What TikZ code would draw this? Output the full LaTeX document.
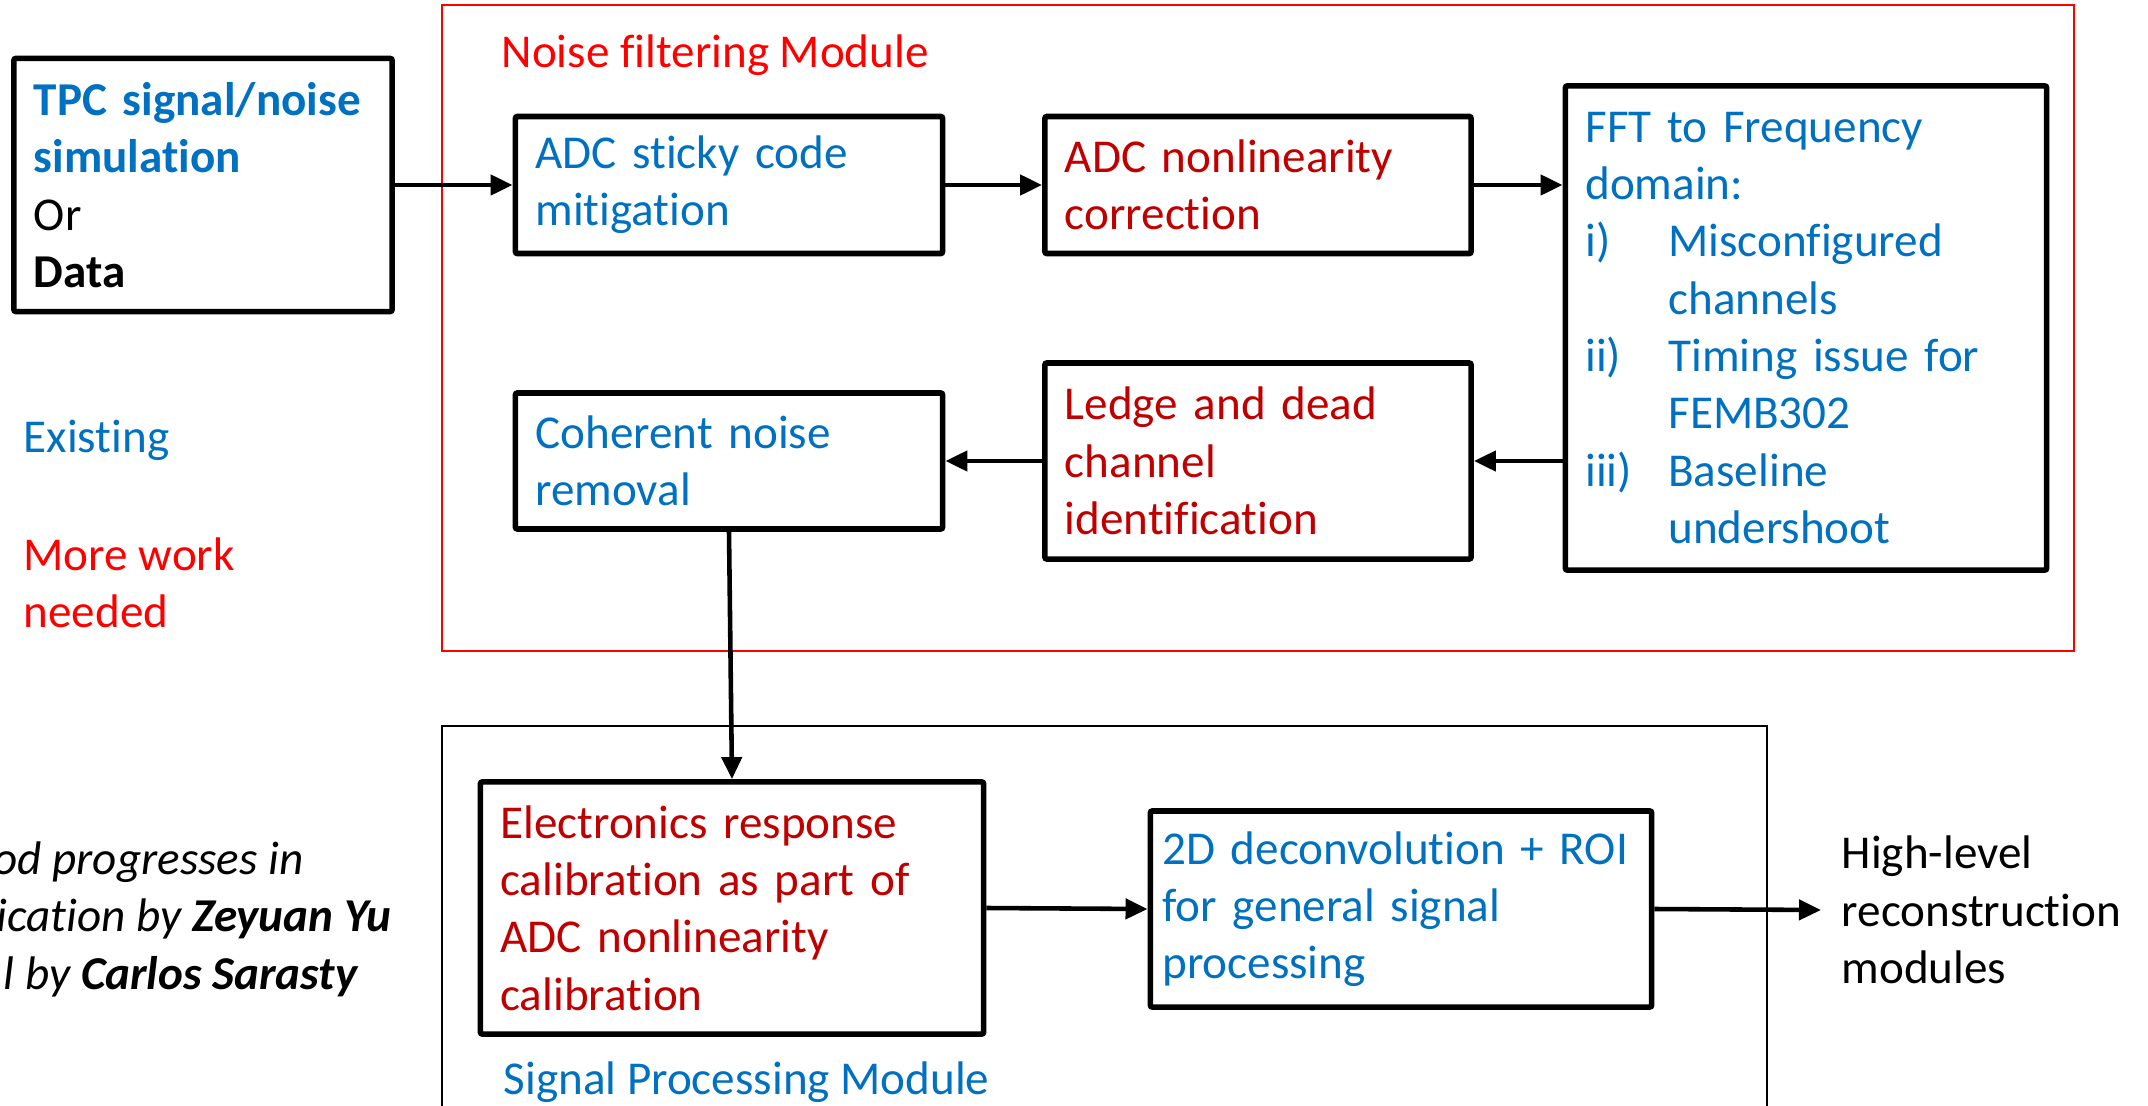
\documentclass[tikz,border=0pt]{standalone}
\usepackage{fontspec}
\setmainfont{Carlito}[Ligatures=NoCommon]
\usepackage{xcolor}
\usetikzlibrary{arrows.meta}
\definecolor{existblue}{RGB}{0,112,192}
\definecolor{workred}{RGB}{192,0,0}
\definecolor{frameRed}{RGB}{255,0,0}

\begin{document}
\begin{tikzpicture}[x=0.01cm, y=-0.01cm,
  txt/.style={font=\fontsize{13.4pt}{16.3pt}\selectfont},
  blk/.style={txt, draw=black, line width=1.6pt, rounded corners=0.6pt,
    align=left, inner xsep=0.2cm, inner ysep=0pt},
  lbl/.style={txt, inner sep=0pt},
  flow/.style={line width=1.3pt, -{Triangle[length=0.22cm,width=0.2cm]}}]

\useasboundingbox (0,0) rectangle (2148,1106);

% module frames
\draw[frameRed, line width=0.6pt] (442,5) rectangle (2074,651);
\draw[black, line width=0.6pt] (442,726) rectangle (1767,1200);

\node[lbl, text=frameRed, anchor=west] (nfm) at (501,55) {Noise filtering Module};
\node[lbl, text=existblue, anchor=west] (spm) at (503,1082) {Signal Processing Module};

% input
\node[blk, text width=3.38cm, minimum height=2.53cm] (src) at (203,185)
{\textcolor{existblue}{\bfseries TPC signal/noise\\simulation}\\Or\\\textbf{Data}};

% noise filtering
\node[blk, text=existblue, text width=3.87cm, minimum height=1.37cm] (sticky) at (729,185)
{ADC sticky code\\mitigation};
\node[blk, text=workred, text width=3.86cm, minimum height=1.37cm] (nonlin) at (1258,185)
{ADC nonlinearity\\correction};
\node[blk, text=existblue, text width=4.41cm, minimum height=4.84cm] (fft) at (1806,328)
{FFT to Frequency\\domain:\\
\makebox[0.83cm][l]{i)}Misconfigured\\\hspace*{0.83cm}channels\\
\makebox[0.83cm][l]{ii)}Timing issue for\\\hspace*{0.83cm}FEMB302\\
\makebox[0.83cm][l]{iii)}Baseline\\\hspace*{0.83cm}undershoot};
\node[blk, text=workred, text width=3.86cm, minimum height=1.96cm] (ledge) at (1258,461)
{Ledge and dead\\channel\\identification};
\node[blk, text=existblue, text width=3.87cm, minimum height=1.36cm] (coherent) at (729,461)
{Coherent noise\\removal};

% signal processing
\node[blk, text=workred, text width=4.63cm, minimum height=2.52cm] (elec) at (732,908)
{Electronics response\\calibration as part of\\ADC nonlinearity\\calibration};
\node[blk, text=existblue, inner xsep=0.12cm, text width=4.77cm, minimum height=1.96cm] (deconv) at (1401,909)
{2D deconvolution + ROI\\for general signal\\processing};

\node[lbl, align=left, anchor=west, inner xsep=0.2cm] (hl) at (1821,910)
{High-level\\reconstruction\\modules};

% legend
\node[lbl, text=existblue, anchor=west] (exist) at (23,440) {Existing};
\node[lbl, text=frameRed, anchor=west, align=left] (more) at (23,583) {More work\\needed};

\node[lbl, anchor=east] (prog1) at (304,862) {\itshape od progresses in};
\node[lbl, anchor=east] (prog2) at (392,919) {\itshape ication by \textbf{Zeyuan Yu}};
\node[lbl, anchor=east] (prog3) at (358,977) {\itshape l by \textbf{Carlos Sarasty}};

% flow
\draw[flow] (src.east) -- (sticky.west);
\draw[flow] (sticky.east) -- (nonlin.west);
\draw[flow] (nonlin.east) -- (nonlin.east -| fft.west);
\draw[flow] (fft.west |- ledge.east) -- (ledge.east);
\draw[flow] (ledge.west) -- (coherent.east);
\draw[flow] (coherent.south) -- (elec.north);
\draw[flow] (elec.east) -- (deconv.west);
\draw[flow] (deconv.east) -- (hl.west);

\end{tikzpicture}
\end{document}
